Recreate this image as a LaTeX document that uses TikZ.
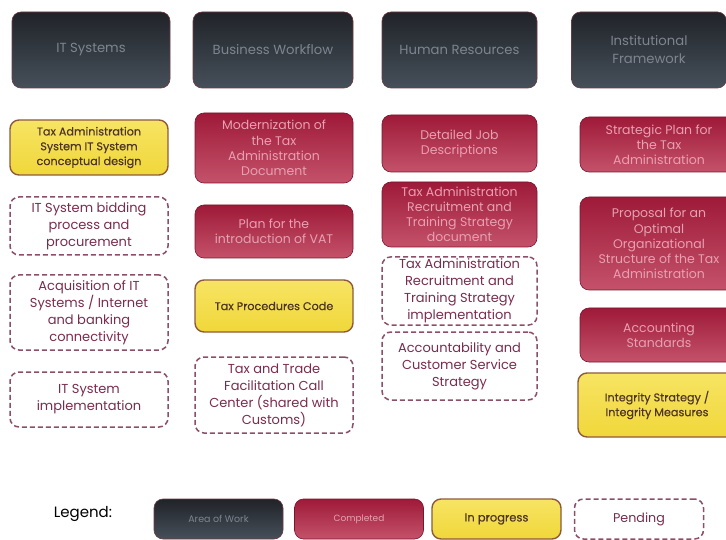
\documentclass[tikz,border=0pt]{standalone}
\usepackage{fontspec}
\setmainfont{Poppins}
\newfontfamily\progfont[FakeBold=0.45]{Poppins}
\definecolor{areatop}{HTML}{202328}
\definecolor{areabot}{HTML}{46505A}
\definecolor{areaedge}{HTML}{6E3A40}
\definecolor{areatext}{HTML}{7E858E}
\definecolor{donetop}{HTML}{9E1A38}
\definecolor{donebot}{HTML}{C4526A}
\definecolor{doneedge}{HTML}{7A1530}
\definecolor{donetext}{HTML}{E8A0B2}
\definecolor{progtop}{HTML}{F7E463}
\definecolor{progbot}{HTML}{F0D73A}
\definecolor{progedge}{HTML}{8E5A3E}
\definecolor{progtext}{HTML}{4E3526}
\definecolor{pendedge}{HTML}{8C4F69}
\definecolor{pendtext}{HTML}{7A2C4E}
\tikzstyle{box} = [rectangle, rounded corners=9pt, minimum width=158pt, align=center, inner sep=2pt]
\tikzstyle{area} = [box, draw=areaedge, line width=0.6pt, top color=areatop, bottom color=areabot, text=areatext, font=\fontsize{13.2}{18}\selectfont]
\tikzstyle{completed} = [box, draw=doneedge, line width=0.6pt, top color=donetop, bottom color=donebot, text=donetext, font=\fontsize{12.5}{15.2}\selectfont]
\tikzstyle{inprogress} = [box, draw=progedge, line width=1.4pt, top color=progtop, bottom color=progbot, text=progtext, font=\progfont\fontsize{11.2}{14.8}\selectfont]
\tikzstyle{pending} = [box, draw=pendedge, line width=1.5pt, dash pattern=on 5pt off 3pt, text=pendtext, font=\fontsize{13}{17}\selectfont]
\tikzstyle{key} = [minimum width=129pt, minimum height=40pt]

\begin{document}
\begin{tikzpicture}[x=1pt, y=-1pt]
\clip (0,0) rectangle (726,540);
\fill[white] (0,0) rectangle (726,540);

% Areas of work
\node (itSys) [area, minimum height=76pt] at (91,50) {IT Systems};
\node (bizFlow) [area, minimum height=76pt, minimum width=160pt] at (273,50) {Business Workflow};
\node (humRes) [area, minimum height=76pt, minimum width=155pt] at (459.5,50) {Human Resources};
\node (instFrame) [area, minimum height=76pt, minimum width=155pt] at (649,50) {Institutional\\Framework};

% IT Systems
\node (itDesign) [inprogress, minimum height=55pt] at (89,147.5) {Tax Administration\\System IT System\\conceptual design};
\node (itBidding) [pending, minimum height=58pt] at (89,226) {IT System bidding\\process and\\procurement};
\node (itAcquire) [pending, minimum height=75pt] at (89,312.5) {Acquisition of IT\\Systems / Internet\\and banking\\connectivity};
\node (itImpl) [pending, minimum height=55pt] at (89,399.5) {IT System\\implementation};

% Business Workflow
\node (modernDoc) [completed, minimum height=70pt] at (274,148) {Modernization of\\the Tax\\Administration\\Document};
\node (vatPlan) [completed, minimum height=53pt] at (274,231.5) {Plan for the\\introduction of VAT};
\node (procCode) [inprogress, minimum height=52pt] at (274,306) {Tax Procedures Code};
\node (callCenter) [pending, minimum height=76pt] at (274,395) {Tax and Trade\\Facilitation Call\\Center (shared with\\Customs)};

% Human Resources
\node (jobDesc) [completed, minimum height=57pt, minimum width=155pt] at (459.5,143.5) {Detailed Job\\Descriptions};
\node (recruitDoc) [completed, minimum height=65pt, minimum width=155pt] at (459.5,214.5) {Tax Administration\\Recruitment and\\Training Strategy\\document};
\node (recruitImpl) [pending, minimum height=68pt, minimum width=155pt] at (459.5,291) {Tax Administration\\Recruitment and\\Training Strategy\\implementation};
\node (accountab) [pending, minimum height=68pt, minimum width=155pt] at (459.5,366) {Accountability and\\Customer Service\\Strategy};

% Institutional Framework
\node (stratPlan) [completed, minimum height=55pt] at (659,144.5) {Strategic Plan for\\the Tax\\Administration};
\node (orgStruct) [completed, minimum height=93pt] at (659,243.5) {Proposal for an\\Optimal\\Organizational\\Structure of the Tax\\Administration};
\node (accStd) [completed, minimum height=54pt] at (659,335) {Accounting\\Standards};
\node (integrity) [inprogress, minimum height=64pt] at (657,405) {Integrity Strategy /\\Integrity Measures};

% Legend
\node (legend) [font=\fontsize{15}{17}\selectfont] at (83,514) {Legend:};
\node (keyArea) [area, key, font=\fontsize{9.5}{10}\selectfont] at (218.5,519) {Area of Work};
\node (keyDone) [completed, key, font=\fontsize{9}{10}\selectfont] at (359,519) {Completed};
\node (keyProg) [inprogress, key, font=\progfont\fontsize{11.5}{12}\selectfont] at (496.5,519) {In progress};
\node (keyPend) [pending, key, font=\fontsize{12.7}{13}\selectfont] at (639,519) {Pending};

\end{tikzpicture}
\end{document}
